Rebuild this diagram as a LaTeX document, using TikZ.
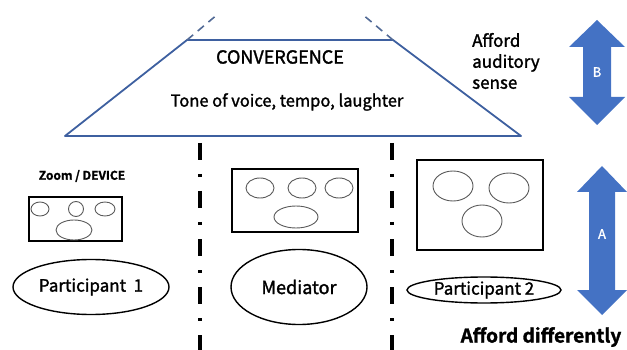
\documentclass[tikz,border=0pt]{standalone}
\usepackage{fontspec}
\setmainfont{Noto Sans CJK JP}[FakeBold=1.6, BoldFont=Noto Sans CJK JP Bold]
\definecolor{trapblue}{RGB}{62,96,160}
\definecolor{arrowblue}{RGB}{68,114,196}
\definecolor{facegray}{RGB}{90,90,90}
\tikzset{
  screen/.style={draw, line width=1.3pt, inner sep=0pt},
  face/.style={draw=facegray, ellipse, line width=0.9pt, inner sep=0pt},
  person/.style={draw, ellipse, line width=1.4pt, inner sep=0pt, font=\fontsize{17}{20}\selectfont},
  divider/.style={line width=3.5pt, dash pattern=on 17pt off 14pt on 3pt off 14pt},
  label/.style={font=\fontsize{17}{21}\selectfont}
}
\usetikzlibrary{shapes.geometric}
\begin{document}
\begin{tikzpicture}[x=1pt,y=-1pt]
\useasboundingbox (0,0) rectangle (627,350);

% convergence area
\coordinate (bl) at (65,136);
\coordinate (tl) at (187,40);
\coordinate (tr) at (393,40);
\coordinate (br) at (521,136);
\coordinate (el) at (218,14);
\coordinate (er) at (362,14);
\draw[trapblue, line width=1.8pt, line join=round] (bl)--(tl)--(tr)--(br)--cycle;
\draw[trapblue!70!gray, line width=1.6pt, dash pattern=on 8pt off 6pt] (tl)--(el);
\draw[trapblue!70!gray, line width=1.6pt, dash pattern=on 8pt off 6pt] (tr)--(er);
\node[font=\fontsize{18}{21}\selectfont] (conv) at (280,57) {CONVERGENCE};
\node[font=\fontsize{16.5}{21}\selectfont] (tone) at (287,102) {Tone of voice, tempo, laughter};
\node[label, align=left, anchor=west, inner sep=0pt] (auditory) at (472,61) {Afford\\auditory\\sense};

% arrow B
\fill[arrowblue] (597,20)--(625,47)--(611,47)--(611,97)--(625,97)--(597,125)
  --(569,97)--(583,97)--(583,47)--(569,47)--cycle;
\node[white, font=\fontsize{13}{15}\selectfont] (b) at (597,72) {B};

% arrow A
\fill[arrowblue] (602,166)--(627,192)--(615,192)--(615,290)--(627,290)--(602,315)
  --(577,290)--(589,290)--(589,192)--(577,192)--cycle;
\node[white, font=\fontsize{13}{15}\selectfont] (a) at (602,234) {A};

% dividers
\coordinate (d1top) at (200,143);
\coordinate (d1bot) at (200,350);
\coordinate (d2top) at (392,143);
\coordinate (d2bot) at (392,350);
\draw[divider] (d1top)--(d1bot);
\draw[divider] (d2top)--(d2bot);

% participant 1
\node[font=\bfseries\fontsize{12}{14}\selectfont] (device) at (82,176) {Zoom / DEVICE};
\node[screen, minimum width=93pt, minimum height=44pt] (screen1) at (75.5,219) {};
\node[face, minimum width=18pt, minimum height=14pt] (f11) at (40,209) {};
\node[face, minimum width=15pt, minimum height=15pt] (f12) at (76,209) {};
\node[face, minimum width=20pt, minimum height=14pt] (f13) at (105,209) {};
\node[face, minimum width=36pt, minimum height=20pt] (f14) at (74,230) {};
\node[person, minimum width=156pt, minimum height=55pt] (p1) at (91,287) {Participant~~1};

% mediator
\node[screen, minimum width=126pt, minimum height=63pt] (screen2) at (295,200.5) {};
\node[face, minimum width=28pt, minimum height=20pt] (f21) at (260,188) {};
\node[face, minimum width=28pt, minimum height=20pt] (f22) at (302,188) {};
\node[face, minimum width=28pt, minimum height=20pt] (f23) at (339,188) {};
\node[face, minimum width=44pt, minimum height=22pt] (f24) at (296,217) {};
\node[person, minimum width=136pt, minimum height=75pt, font=\fontsize{18}{21}\selectfont] (med) at (299,287) {Mediator};

% participant 2
\node[screen, minimum width=126pt, minimum height=90pt] (screen3) at (480,205) {};
\node[face, minimum width=40pt, minimum height=30pt] (f31) at (453,186) {};
\node[face, minimum width=40pt, minimum height=30pt] (f32) at (509,188) {};
\node[face, minimum width=40pt, minimum height=32pt] (f33) at (482,221) {};
\node[person, minimum width=154pt, minimum height=26pt] (p2) at (484,290) {Participant 2};

\node[font=\bfseries\fontsize{19}{22}\selectfont] (differ) at (541,337) {Afford differently};
\end{tikzpicture}
\end{document}
